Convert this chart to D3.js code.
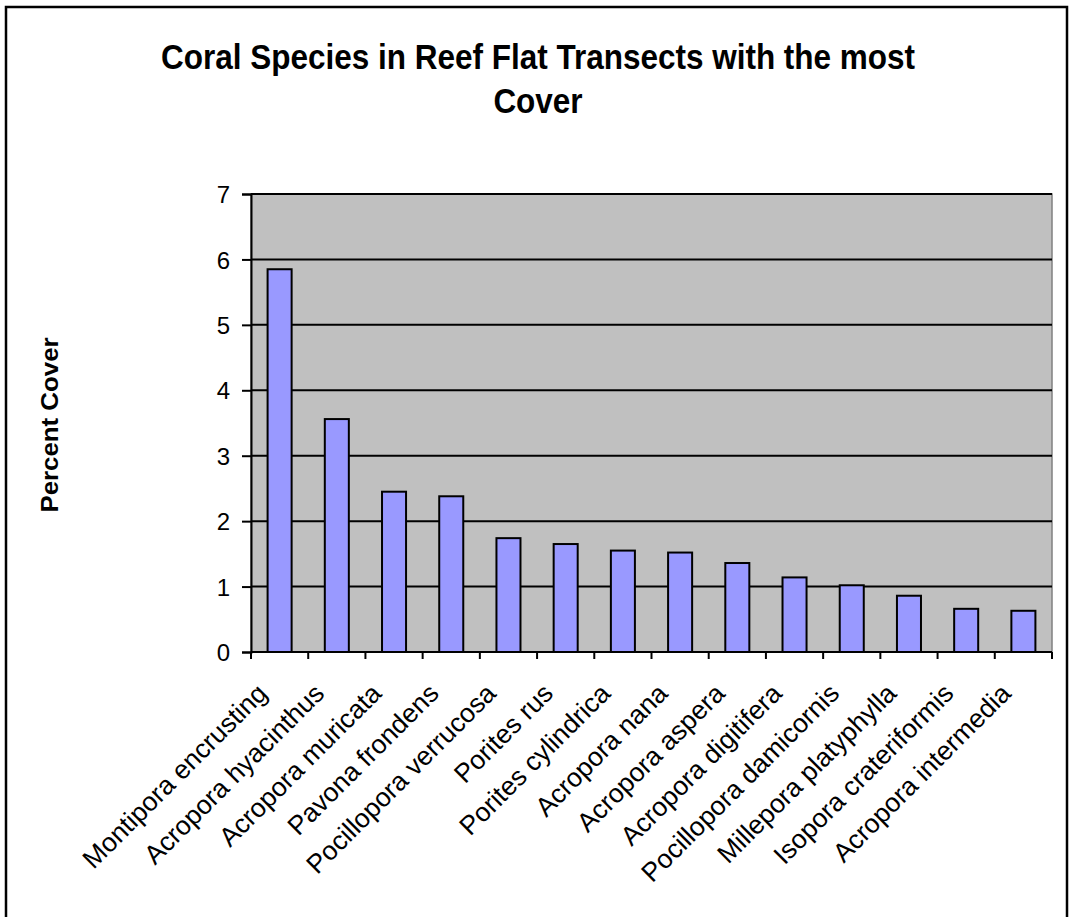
<!DOCTYPE html>
<html>
<head>
<meta charset="utf-8">
<script src="https://cdn.jsdelivr.net/npm/d3@7"></script>
<style>
  html, body { margin: 0; padding: 0; background: #fff; }
  svg { display: block; }
  text { font-family: "Liberation Sans", Arial, sans-serif; fill: #000; }
</style>
</head>
<body>
<svg id="chart" width="1069" height="917"></svg>
<script>
// Species ranked by percent cover on the reef flat transects
const species = [
  "Montipora encrusting",
  "Acropora hyacinthus",
  "Acropora muricata",
  "Pavona frondens",
  "Pocillopora verrucosa",
  "Porites rus",
  "Porites cylindrica",
  "Acropora nana",
  "Acropora aspera",
  "Acropora digitifera",
  "Pocillopora damicornis",
  "Millepora platyphylla",
  "Isopora crateriformis",
  "Acropora intermedia"
];
const percentCover = [5.85, 3.56, 2.45, 2.38, 1.74, 1.65, 1.55, 1.52, 1.36, 1.14, 1.02, 0.86, 0.66, 0.63];
const yTicks = [0, 1, 2, 3, 4, 5, 6, 7];

const titleLines = ["Coral Species in Reef Flat Transects with the most", "Cover"];
const yTitle = "Percent Cover";

const svg = d3.select("#chart");
const plot = { left: 251, right: 1052, top: 194, bottom: 652 };

// outer chart frame
svg.append("rect")
  .attr("x", 6).attr("y", 7)
  .attr("width", 1061).attr("height", 940)
  .attr("fill", "#fff")
  .attr("stroke", "#000")
  .attr("stroke-width", 2.5);

const x = d3.scaleBand()
  .domain(species)
  .range([plot.left, plot.right])
  .paddingInner(0.58)
  .paddingOuter(0.29);

const y = d3.scaleLinear()
  .domain([0, 7])
  .range([plot.bottom, plot.top]);

// plot area background
svg.append("rect")
  .attr("x", plot.left).attr("y", plot.top)
  .attr("width", plot.right - plot.left)
  .attr("height", plot.bottom - plot.top)
  .attr("fill", "#c0c0c0")
  .attr("stroke", "#808080")
  .attr("stroke-width", 1.5);

// horizontal gridlines
svg.append("g")
  .selectAll("line")
  .data(yTicks.filter(d => d > 0))
  .join("line")
  .attr("x1", plot.left).attr("x2", plot.right)
  .attr("y1", d => y(d)).attr("y2", d => y(d))
  .attr("stroke", "#000")
  .attr("stroke-width", 2);

// bars
svg.append("g")
  .selectAll("rect")
  .data(species.map((s, i) => ({ s, v: percentCover[i] })))
  .join("rect")
  .attr("x", d => x(d.s))
  .attr("y", d => y(d.v))
  .attr("width", x.bandwidth())
  .attr("height", d => y(0) - y(d.v))
  .attr("fill", "#9999ff")
  .attr("stroke", "#000")
  .attr("stroke-width", 2);

// y axis
const yAxis = d3.axisLeft(y)
  .tickValues(yTicks)
  .tickFormat(d3.format("d"))
  .tickSize(9)
  .tickPadding(12);
const gy = svg.append("g")
  .attr("transform", `translate(${plot.left},0)`)
  .call(yAxis);
gy.select(".domain").attr("stroke", "#000").attr("stroke-width", 2);
gy.selectAll(".tick line").attr("stroke", "#000").attr("stroke-width", 2);
gy.selectAll(".tick text")
  .style("font-size", "24px")
  .attr("dy", "0.36em");

// x axis: ticks sit on category boundaries
const step = x.step();
const boundaries = d3.range(species.length + 1).map(i => plot.left + i * step);
svg.append("line")
  .attr("x1", plot.left).attr("x2", plot.right)
  .attr("y1", plot.bottom).attr("y2", plot.bottom)
  .attr("stroke", "#000").attr("stroke-width", 2);
svg.append("g")
  .selectAll("line")
  .data(boundaries)
  .join("line")
  .attr("x1", d => d).attr("x2", d => d)
  .attr("y1", plot.bottom).attr("y2", plot.bottom + 7)
  .attr("stroke", "#000").attr("stroke-width", 2);

// rotated category labels
svg.append("g")
  .selectAll("text")
  .data(species)
  .join("text")
  .attr("transform", d => {
    const cx = x(d) + x.bandwidth() / 2;
    return `translate(${cx - 11},${plot.bottom + 43}) rotate(-45)`;
  })
  .attr("text-anchor", "end")
  .style("font-size", "26.5px")
  .text(d => d);

// chart title (slightly tall lettering)
svg.append("g")
  .selectAll("text")
  .data(titleLines)
  .join("text")
  .attr("transform", (d, i) => `translate(538,${69 + i * 44}) scale(1,1.13)`)
  .attr("text-anchor", "middle")
  .style("font-size", "31.5px")
  .style("font-weight", "bold")
  .text(d => d);

// y axis title
svg.append("text")
  .attr("transform", "translate(58,425) rotate(-90) scale(1.1,1)")
  .attr("text-anchor", "middle")
  .style("font-size", "23.5px")
  .style("font-weight", "bold")
  .text(yTitle);
</script>
</body>
</html>
